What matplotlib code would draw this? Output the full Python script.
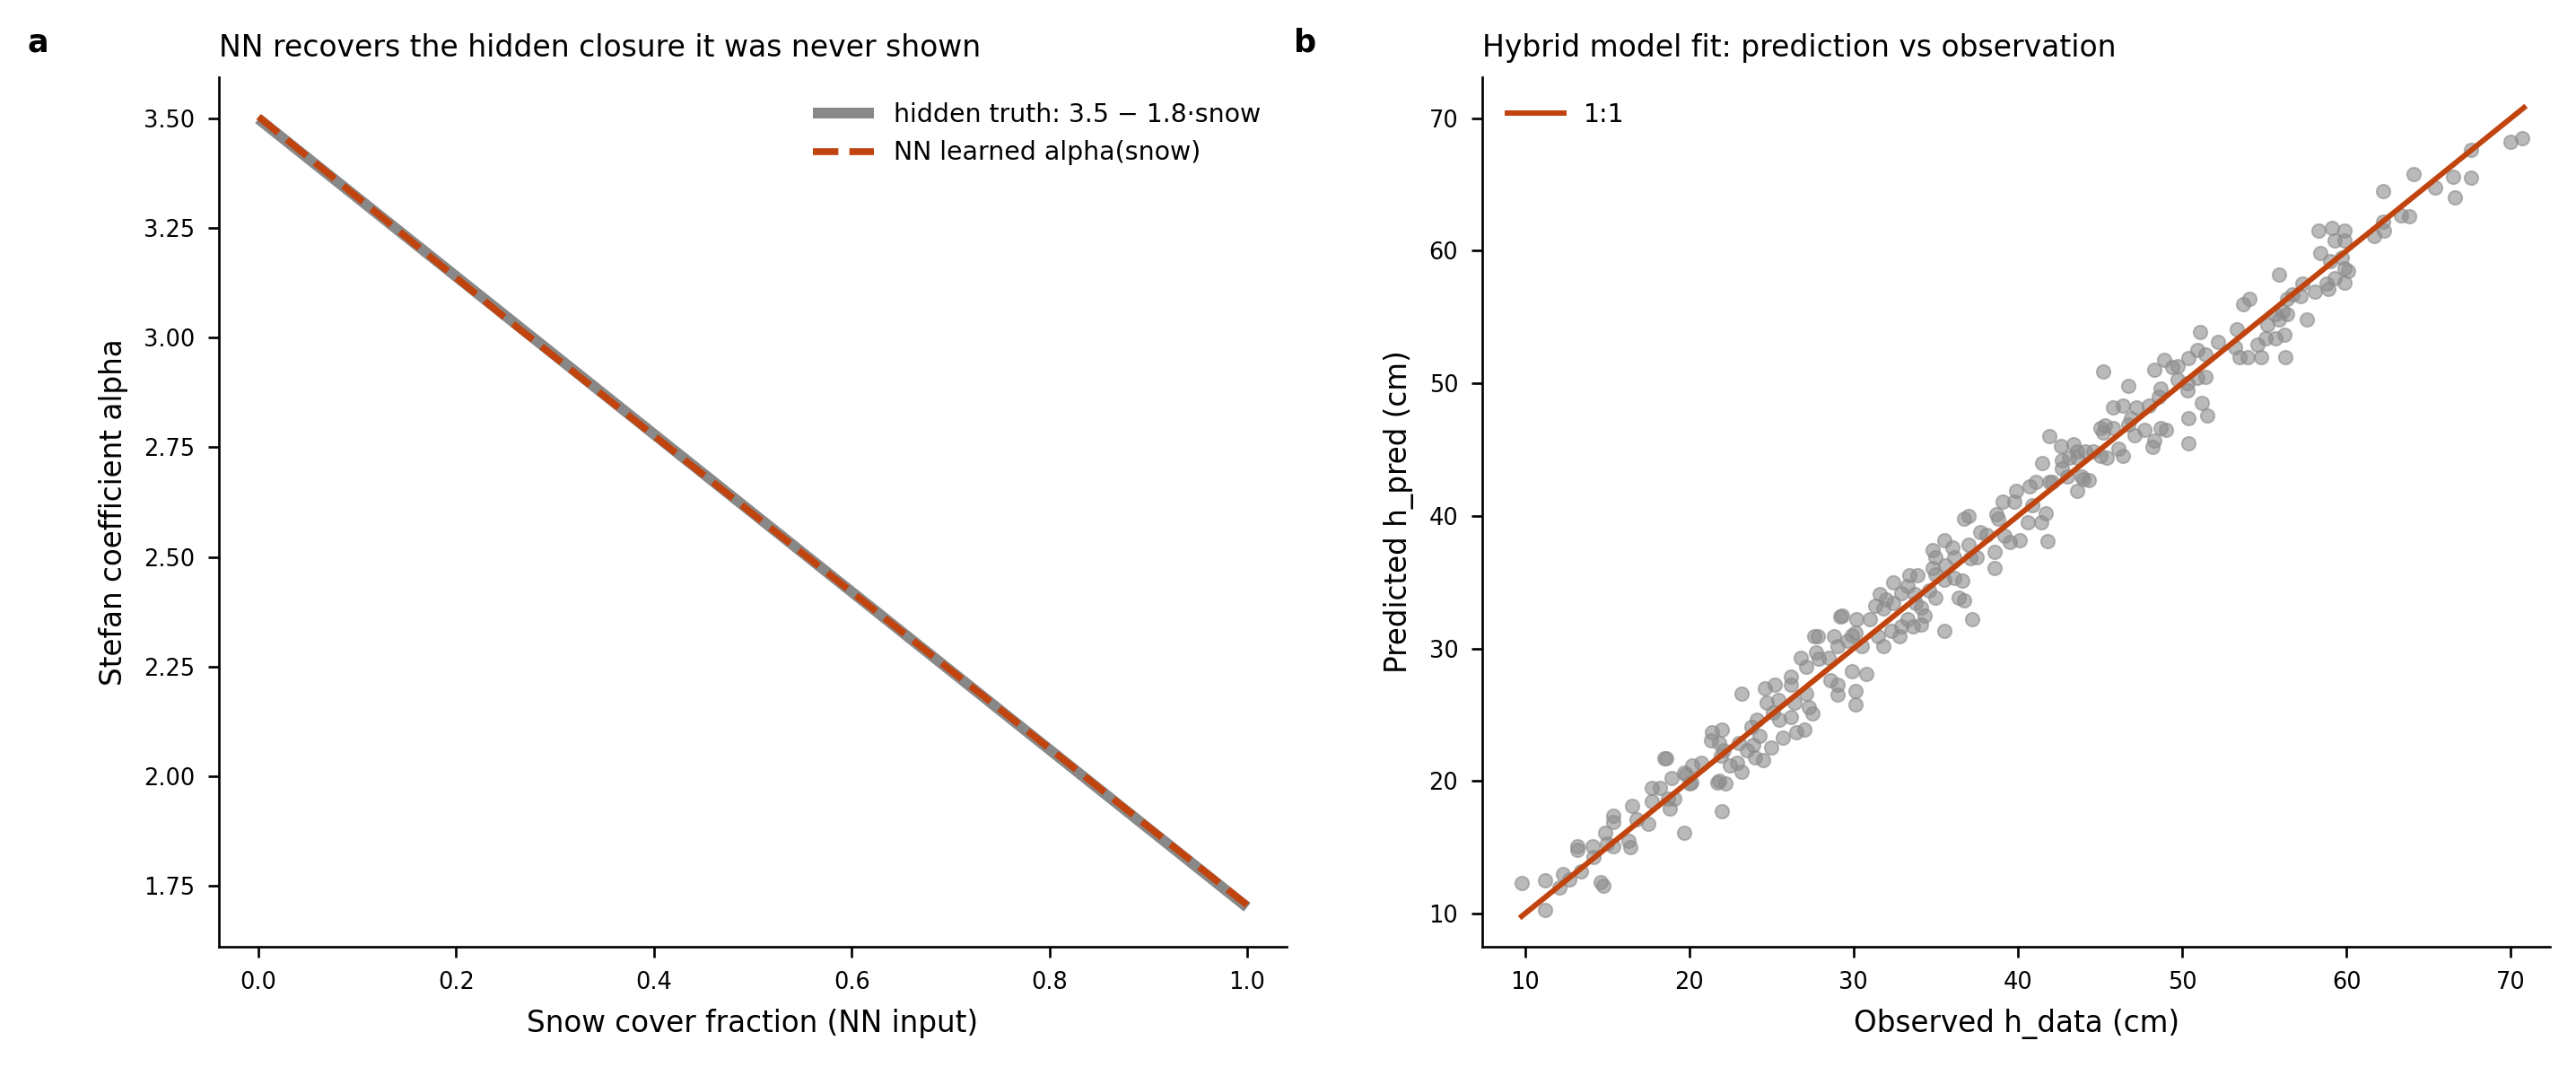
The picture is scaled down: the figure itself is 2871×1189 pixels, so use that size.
import matplotlib
matplotlib.use("Agg")
import matplotlib.pyplot as plt
import numpy as np

# ---------------- data ----------------
snow = [0.0, 0.25, 0.5, 0.75, 1.0]
truth_alpha = [3.5, 3.05, 2.6, 2.15, 1.7]
nn_alpha = [3.505, 3.045, 2.598, 2.152, 1.705]

obs = [
    9.8, 11.2, 11.2, 12.1, 12.3, 12.7, 13.4, 14.6, 14.8, 13.2, 13.2, 14.1, 14.2, 14.9, 15.0, 15.4, 15.4, 15.4,
    16.3, 16.4, 16.5, 16.8, 17.5, 17.7, 17.7, 18.2, 18.5, 18.6, 18.7, 18.8, 18.9, 19.1, 19.7, 19.8, 20.0, 20.2,
    20.7, 21.4, 21.3, 21.7, 22.0, 21.9,
    23.2, 22.0, 21.8, 22.1, 22.5, 22.9, 23.2, 21.8, 22.2, 23.0, 23.5, 23.9, 23.8, 24.1, 24.3, 24.0, 24.5, 25.0,
    24.6, 25.2, 24.7, 25.4, 25.1, 25.5, 25.7, 26.2, 26.2, 26.4, 26.2, 26.5, 27.0, 27.1, 27.3, 27.5, 26.8, 27.1,
    27.6, 27.8, 27.7, 27.9, 28.5, 28.6, 29.0, 29.0, 28.8, 29.2, 29.3, 29.0, 29.6, 29.9, 30.1, 30.1, 30.2, 30.1,
    30.5, 30.8, 31.0, 31.3, 31.6, 31.8, 31.5, 19.7, 20.1,
    41.9, 41.5, 41.1, 40.7, 41.9, 39.9, 39.8, 39.1, 38.7, 38.8, 40.9, 41.7, 41.4, 40.6, 41.8, 36.7, 37.0, 37.7,
    38.1, 38.6, 38.6, 39.2, 39.5, 40.1, 35.5, 34.8, 35.0, 36.0, 36.1, 37.0, 37.1, 37.5, 34.8, 35.0, 35.6, 36.1,
    36.6, 35.5, 32.4, 33.4, 33.9, 33.3, 32.9, 33.7, 34.6, 35.0, 32.0, 31.8, 32.4, 33.8, 34.1, 34.3, 33.3, 32.9,
    33.6, 34.1, 36.4, 36.7, 37.2, 35.5, 32.3, 32.8, 29.9,
    51.1, 52.2, 50.9, 50.4, 51.4, 48.9, 48.3, 49.4, 49.7, 49.7, 50.3, 50.3, 50.9, 51.4, 45.2, 46.7, 48.7, 48.6,
    48.0, 51.2, 51.5, 50.4, 50.4, 45.8, 46.4, 47.2, 46.9, 45.0, 45.3, 45.8, 45.2, 46.7, 47.1, 47.7, 48.7, 49.0,
    48.3, 48.2, 46.1, 46.4, 42.6, 43.4, 43.6, 43.1, 43.6, 44.1, 44.6, 45.0, 45.4, 42.7, 42.7, 43.0, 43.9, 44.0,
    44.3, 43.6, 42.1,
    62.2, 62.2, 61.7, 58.3, 59.1, 59.9, 59.3, 59.9, 58.4, 59.0, 59.7, 59.9, 60.1, 59.3, 59.9, 58.8, 58.9, 58.1,
    57.3, 57.2, 56.7, 56.4, 55.9, 53.7, 54.1, 56.1, 56.4, 55.7, 55.9, 55.2, 57.6, 56.2, 55.7, 55.1, 54.6, 54.8,
    53.3, 53.2, 53.5, 54.0, 56.3,
    70.0, 70.7, 67.6, 67.6, 66.5, 66.6, 65.4, 64.1, 63.8, 63.3, 62.3,
]
pred = [
    12.3, 10.3, 12.5, 12.0, 13.0, 12.6, 13.2, 12.4, 12.1, 15.1, 14.8, 15.1, 14.3, 16.1, 15.3, 15.1, 17.4, 16.9,
    15.5, 15.0, 18.1, 17.1, 16.8, 19.5, 18.5, 19.5, 21.7, 21.7, 18.7, 17.9, 20.2, 18.7, 16.1, 20.5, 19.8, 21.2,
    21.4, 23.7, 23.1, 19.9, 17.7, 21.9,
    26.6, 23.9, 22.9, 22.3, 21.2, 21.4, 20.7, 20.0, 19.8, 22.9, 22.3, 22.7, 24.1, 24.6, 23.4, 21.8, 21.6, 22.5,
    27.0, 27.3, 25.9, 26.1, 25.2, 24.6, 23.3, 27.9, 27.3, 25.9, 24.8, 23.7, 23.9, 26.6, 25.6, 25.1, 29.3, 28.6,
    30.9, 30.9, 29.7, 29.2, 29.3, 27.6, 27.3, 26.5, 30.9, 32.4, 32.5, 30.2, 30.6, 28.3, 26.8, 25.8, 32.2, 31.2,
    30.2, 28.1, 32.2, 33.2, 34.1, 30.2, 30.9, 20.6, 19.9,
    46.0, 44.0, 42.6, 42.2, 42.6, 41.9, 41.1, 41.1, 40.1, 39.8, 40.8, 40.2, 39.5, 39.5, 38.1, 39.8, 40.0, 38.8,
    38.6, 37.3, 36.1, 38.5, 38.0, 38.2, 38.2, 37.4, 36.9, 37.6, 36.9, 37.8, 36.8, 36.9, 36.1, 35.6, 36.3, 35.3,
    35.1, 35.2, 35.0, 35.5, 35.5, 34.7, 34.2, 34.1, 34.4, 33.8, 33.7, 33.0, 33.4, 33.4, 33.1, 32.5, 32.2, 31.7,
    31.7, 31.8, 33.8, 33.6, 32.2, 31.3, 31.3, 30.9, 31.0,
    53.9, 53.1, 52.5, 51.9, 52.2, 51.8, 51.0, 51.2, 51.3, 50.3, 50.0, 49.5, 50.4, 50.5, 50.9, 49.8, 49.6, 49.0,
    48.3, 48.5, 47.6, 47.4, 45.5, 48.2, 48.3, 48.2, 47.4, 46.6, 46.8, 46.6, 46.3, 46.9, 46.1, 46.5, 46.6, 46.5,
    45.7, 45.2, 45.1, 44.5, 45.3, 45.4, 44.9, 44.4, 44.4, 44.9, 44.9, 44.5, 44.4, 44.2, 43.6, 43.0, 43.0, 42.8,
    42.7, 41.9, 42.6,
    64.5, 62.2, 61.1, 61.5, 61.7, 61.5, 60.8, 60.8, 59.8, 59.2, 59.5, 58.7, 58.5, 57.9, 57.6, 57.5, 57.1, 56.9,
    57.5, 56.6, 56.7, 56.4, 58.2, 56.0, 56.4, 55.4, 55.2, 55.2, 54.8, 54.4, 54.8, 53.7, 53.4, 53.4, 52.9, 52.0,
    54.1, 52.7, 52.0, 52.0, 52.0,
    68.2, 68.5, 67.6, 65.5, 65.6, 64.0, 64.8, 65.8, 62.6, 62.7, 61.5,
]
one_to_one = [9.8, 70.8]

# ---------------- style ----------------
ORANGE = "#c1440e"
GRAY_LINE = "#888888"
GRAY_PT = "#8c8c8c"

plt.rcParams["font.family"] = ["DejaVu Sans"]

DPI = 240
fig = plt.figure(figsize=(2871 / DPI, 1189 / DPI), dpi=DPI)

axa = fig.add_axes([0.085, 0.1127, 0.4145, 0.8150])
axb = fig.add_axes([0.5754, 0.1127, 0.4146, 0.8150])

# panel a
axa.plot(snow, truth_alpha, color=GRAY_LINE, lw=3.6, label="hidden truth: 3.5 \u2212 1.8\u00b7snow",
         solid_capstyle="butt")
axa.plot(snow, nn_alpha, color=ORANGE, lw=2.3, ls="--", label="NN learned alpha(snow)")
axa.set_xlim(-0.04, 1.04)
axa.set_xlabel("Snow cover fraction (NN input)", fontsize=9.8, labelpad=5)
axa.set_ylabel("Stefan coefficient alpha", fontsize=9.8, labelpad=5)
axa.set_title("NN recovers the hidden closure it was never shown", loc="left", fontsize=9.9, pad=7)
axa.legend(loc="upper right", frameon=False, fontsize=8.5, handlelength=2.4, borderaxespad=0.6)
axa.set_xticks([0.0, 0.2, 0.4, 0.6, 0.8, 1.0])
axa.set_yticks([1.75, 2.0, 2.25, 2.5, 2.75, 3.0, 3.25, 3.5])

# panel b
axb.scatter(obs, pred, s=21, color=GRAY_PT, alpha=0.6, edgecolors=GRAY_PT, linewidths=0.6)
axb.plot(one_to_one, one_to_one, color=ORANGE, lw=1.8, label="1:1")
axb.set_xlim(7.4, 72.4)
axb.set_ylim(7.5, 73.1)
axb.set_xticks([10, 20, 30, 40, 50, 60, 70])
axb.set_yticks([10, 20, 30, 40, 50, 60, 70])
axb.set_xlabel("Observed h_data (cm)", fontsize=9.8, labelpad=5)
axb.set_ylabel("Predicted h_pred (cm)", fontsize=9.8, labelpad=5)
axb.set_title("Hybrid model fit: prediction vs observation", loc="left", fontsize=9.9, pad=7)
axb.legend(loc="upper left", frameon=False, fontsize=8.5, handlelength=2.2, borderaxespad=0.6)

for ax in (axa, axb):
    ax.spines["top"].set_visible(False)
    ax.spines["right"].set_visible(False)
    ax.tick_params(labelsize=7.7, pad=4.5)

fig.text(31 / 2871, 1 - 57 / 1189, "a", fontsize=10.5, fontweight="bold", ha="left", va="baseline")
fig.text(1442 / 2871, 1 - 57 / 1189, "b", fontsize=10.5, fontweight="bold", ha="left", va="baseline")

fig.savefig("out.png", dpi=DPI)
